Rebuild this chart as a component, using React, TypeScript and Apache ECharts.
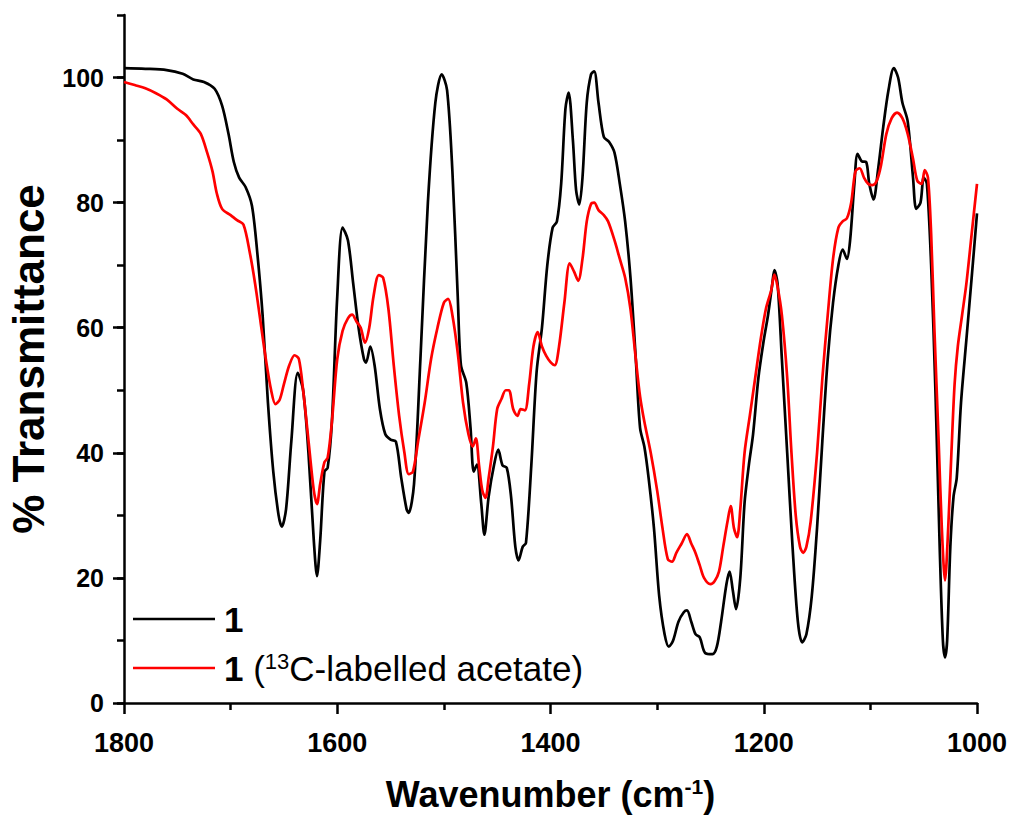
import React, { useEffect, useRef } from "react";
import * as echarts from "echarts";

// Wavenumber (cm-1) and % transmittance for compound 1
const wnBlack = [
  1800, 1780, 1760, 1745, 1735, 1725, 1715, 1708, 1702, 1697, 1692, 1686, 1680, 1675, 1670, 1665,
  1660, 1655, 1652, 1648, 1643, 1637, 1632, 1627, 1622, 1619, 1616, 1612, 1609, 1605, 1600, 1595,
  1590, 1585, 1580, 1575, 1573, 1569, 1565, 1560, 1555, 1550, 1545, 1540, 1535, 1533, 1528, 1522,
  1515, 1508, 1502, 1497, 1492, 1487, 1484, 1479, 1475, 1472, 1469, 1465, 1462, 1458, 1453, 1449,
  1445, 1441, 1437, 1433, 1430, 1426, 1423, 1418, 1413, 1408, 1403, 1398, 1394, 1390, 1386, 1383,
  1379, 1376, 1373, 1370, 1366, 1362, 1359, 1355, 1350, 1345, 1340, 1335, 1330, 1325, 1320, 1316,
  1312, 1308, 1303, 1298, 1293, 1289, 1285, 1280, 1275, 1272, 1268, 1264, 1260, 1255, 1248, 1244,
  1240, 1235, 1232, 1229, 1226, 1222, 1218, 1214, 1210, 1205, 1200, 1196, 1192, 1190, 1187, 1183,
  1178, 1173, 1168, 1164, 1160, 1155, 1150, 1145, 1140, 1135, 1130, 1126, 1122, 1119, 1115, 1112,
  1108, 1104, 1101, 1097, 1093, 1088, 1083, 1078, 1074, 1070, 1065, 1060, 1057, 1053, 1050, 1047,
  1043, 1039, 1035, 1032, 1030, 1028, 1025, 1022, 1019, 1015, 1010, 1005, 1000,
];
const tBlack = [
  101.5, 101.4, 101.2, 100.6, 99.7, 99.3, 98.2, 95.5, 91, 86.5, 84, 82.5, 79.5, 72, 62, 48,
  37, 30, 28.2, 31, 42, 52.8, 50, 40, 26, 20.3, 26, 37, 37.6, 45, 65, 76,
  74, 67, 60, 55, 54.4, 57, 54, 47, 43, 42.1, 41.8, 36, 31, 30.4, 35, 55,
  80, 96, 100.5, 98, 85, 65, 54, 51.2, 44, 37, 38.1, 32, 26.9, 33, 38, 40.5,
  38, 37.6, 33, 25, 22.8, 25, 25.6, 38, 53, 60, 70, 76, 77, 83, 95, 97.6,
  90, 82, 79.7, 84, 96, 100.5, 101, 96, 90.5, 89.7, 88, 83, 77, 68, 55, 44,
  41, 36, 28, 17, 11, 9, 10, 13, 14.5, 14.8, 13, 11, 10.5, 8, 7.8, 9,
  13, 19, 21, 18, 15, 20, 32, 38, 43, 52, 58, 62, 67, 69.2, 67, 55,
  40, 25, 13, 9.7, 11, 17, 28, 42, 55, 64, 70, 72.5, 71, 74, 83, 87.8,
  86.6, 86.5, 83, 80.5, 85, 92, 98, 101.5, 100, 96, 93, 84, 79, 80, 84, 83,
  70, 50, 25, 10, 7.3, 10, 25, 33, 36, 48, 58, 68, 78.3,
];

// Wavenumber (cm-1) and % transmittance for 1 (13C-labelled acetate)
const wnRed = [
  1800, 1790, 1780, 1770, 1760, 1750, 1742, 1735, 1728, 1722, 1717, 1713, 1708, 1700, 1694, 1688,
  1682, 1677, 1672, 1667, 1662, 1658, 1654, 1650, 1645, 1640, 1636, 1632, 1627, 1622, 1619, 1616,
  1612, 1609, 1605, 1600, 1595, 1590, 1586, 1582, 1578, 1574, 1570, 1566, 1561, 1557, 1552, 1547,
  1542, 1537, 1533, 1529, 1524, 1518, 1512, 1506, 1500, 1496, 1492, 1487, 1482, 1477, 1473, 1470,
  1467, 1464, 1461, 1458, 1454, 1450, 1446, 1442, 1439, 1435, 1431, 1428, 1424, 1420, 1416, 1412,
  1408, 1404, 1400, 1396, 1392, 1387, 1382, 1378, 1374, 1370, 1366, 1362, 1359, 1355, 1350, 1346,
  1340, 1335, 1330, 1325, 1320, 1316, 1312, 1306, 1300, 1295, 1290, 1286, 1282, 1277, 1272, 1268,
  1264, 1260, 1256, 1250, 1246, 1242, 1238, 1234, 1231, 1228, 1225, 1222, 1218, 1213, 1208, 1203,
  1198, 1193, 1190, 1187, 1183, 1178, 1174, 1170, 1166, 1163, 1160, 1156, 1150, 1145, 1140, 1135,
  1130, 1126, 1122, 1118, 1114, 1110, 1106, 1102, 1098, 1094, 1090, 1085, 1080, 1075, 1070, 1065,
  1060, 1056, 1052, 1049, 1046, 1043, 1040, 1036, 1033, 1030, 1027, 1024, 1021, 1018, 1014, 1010,
  1005, 1000,
];
const tRed = [
  99.3, 98.8, 98.3, 97.5, 96.5, 95, 94, 92.5, 91, 88, 85, 81.5, 79, 78, 77.2, 76.5,
  72, 67, 61, 55, 50, 47.8, 48.5, 51, 54, 55.6, 55, 50, 42, 34, 31.8, 35,
  38.5, 39.2, 45, 55, 59.5, 61.5, 62.1, 61, 60, 57.6, 60, 65, 68.4, 68, 63, 54,
  46, 40, 36.6, 37, 42, 48, 55, 60, 64, 64.6, 62, 56, 48, 43, 41, 42.3,
  38, 34, 32.8, 36, 41, 47, 48.6, 50, 50, 47, 45.9, 47, 46.8, 51, 57, 59.3,
  57, 55.5, 54.5, 54, 57, 64, 70.3, 69, 67.5, 71, 77, 79.8, 80, 78.8, 78, 77,
  74, 71, 68, 63, 55, 49, 45, 40, 34, 28, 23, 22.6, 24, 25.5, 27, 25.5,
  24, 22, 20, 19, 19.5, 21, 25, 29, 31.5, 28, 26.5, 31, 40, 46, 52, 58,
  63, 66, 68.5, 66.5, 62, 52, 40, 30, 25, 24, 25, 29, 40, 52, 62, 71,
  76, 77, 77.5, 80, 85, 85.5, 84, 83, 82.8, 83.5, 86, 91, 93.5, 94.4, 93.5, 91,
  87, 83.5, 83, 85.2, 84, 75, 60, 42, 28, 19.6, 28, 40, 51, 57, 62, 67,
  75, 83,
];

const xTicks = [1000, 1200, 1400, 1600, 1800];
const yTicks = [0, 20, 40, 60, 80, 100];

const seriesNames = ["1", "1 (13C-labelled acetate)"];

const FONT = "'Liberation Sans', Arial, sans-serif";

export default function App() {
  const ref = useRef<HTMLDivElement>(null);

  useEffect(() => {
    if (!ref.current) return;
    const chart = echarts.init(ref.current, undefined, { renderer: "svg" });
    const blackData = wnBlack.map((w, i) => [w, tBlack[i]]);
    const redData = wnRed.map((w, i) => [w, tRed[i]]);

    chart.setOption({
      animation: false,
      backgroundColor: "#ffffff",
      grid: {
        left: 124,
        right: 37,
        top: 15,
        bottom: 116,
        containLabel: false,
        outerBoundsMode: "none",
      },
      xAxis: {
        type: "value",
        min: 1000,
        max: 1800,
        interval: 200,
        inverse: true,
        splitLine: { show: false },
        axisLine: { show: true, onZero: false, lineStyle: { color: "#000", width: 2.5 } },
        axisTick: { show: true, inside: false, length: 11, lineStyle: { color: "#000", width: 2.5 } },
        minorTick: { show: true, splitNumber: 2, length: 7, lineStyle: { color: "#000", width: 2.5 } },
        axisLabel: {
          color: "#000",
          fontFamily: FONT,
          fontWeight: "bold",
          fontSize: 27,
          margin: 26,
          customValues: xTicks,
          formatter: (v: number) => String(v),
        },
        name: "Wavenumber (cm{sup|-1})",
        nameLocation: "middle",
        nameGap: 73,
        nameTextStyle: {
          color: "#000",
          fontFamily: FONT,
          fontWeight: "bold",
          fontSize: 36,
          rich: {
            sup: {
              fontFamily: FONT,
              fontWeight: "bold",
              fontSize: 21,
              verticalAlign: "top",
              color: "#000",
              padding: [0, 0, 16, 0],
            },
          },
        },
      },
      yAxis: [
        {
          type: "value",
          min: 0,
          max: 110,
          interval: 20,
          splitLine: { show: false },
          axisLine: { show: true, onZero: false, lineStyle: { color: "#000", width: 2.5 } },
          axisTick: {
            show: true,
            length: 11,
            customValues: yTicks,
            lineStyle: { color: "#000", width: 2.5 },
          },
          axisLabel: {
            color: "#000",
            fontFamily: FONT,
            fontWeight: "bold",
            fontSize: 25,
            margin: 20,
            customValues: yTicks,
          },
          name: "% Transmittance",
          nameLocation: "middle",
          nameRotate: 90,
          nameGap: 74,
          nameTextStyle: {
            color: "#000",
            fontFamily: FONT,
            fontWeight: "bold",
            fontSize: 44,
          },
        },
        {
          type: "value",
          min: 0,
          max: 110,
          interval: 10,
          position: "left",
          splitLine: { show: false },
          axisLine: { show: false },
          axisTick: { show: true, length: 7, lineStyle: { color: "#000", width: 2.5 } },
          axisLabel: { show: false },
        },
      ],
      series: [
        {
          name: seriesNames[0],
          type: "line",
          data: blackData,
          showSymbol: false,
          smooth: 0.3,
          lineStyle: { color: "#000000", width: 2.7 },
          itemStyle: { color: "#000000" },
          z: 2,
        },
        {
          name: seriesNames[1],
          type: "line",
          data: redData,
          showSymbol: false,
          smooth: 0.3,
          lineStyle: { color: "#ff0000", width: 2.7 },
          itemStyle: { color: "#ff0000" },
          z: 3,
        },
      ],
      graphic: [
        { type: "line", shape: { x1: 133, y1: 619, x2: 215, y2: 619 }, style: { stroke: "#000", lineWidth: 2.7 } },
        {
          type: "text",
          x: 224,
          y: 619,
          style: {
            text: "1",
            fill: "#000",
            font: `bold 35px ${FONT}`,
            verticalAlign: "middle",
          },
        },
        { type: "line", shape: { x1: 133, y1: 668, x2: 215, y2: 668 }, style: { stroke: "#ff0000", lineWidth: 2.7 } },
        {
          type: "text",
          x: 224,
          y: 668,
          style: {
            text: "{b|1} ({s|13}C-labelled acetate)",
            fill: "#000",
            font: `35px ${FONT}`,
            verticalAlign: "middle",
            rich: {
              b: { fontFamily: FONT, fontWeight: "bold", fontSize: 35, fill: "#000" },
              s: { fontFamily: FONT, fontSize: 22, verticalAlign: "top", fill: "#000" },
            },
          },
        },
      ],
    });

    return () => chart.dispose();
  }, []);

  return (
    <div
      ref={ref}
      style={{ position: "fixed", left: 0, top: 0, width: 1014, height: 819, background: "#fff" }}
    />
  );
}
